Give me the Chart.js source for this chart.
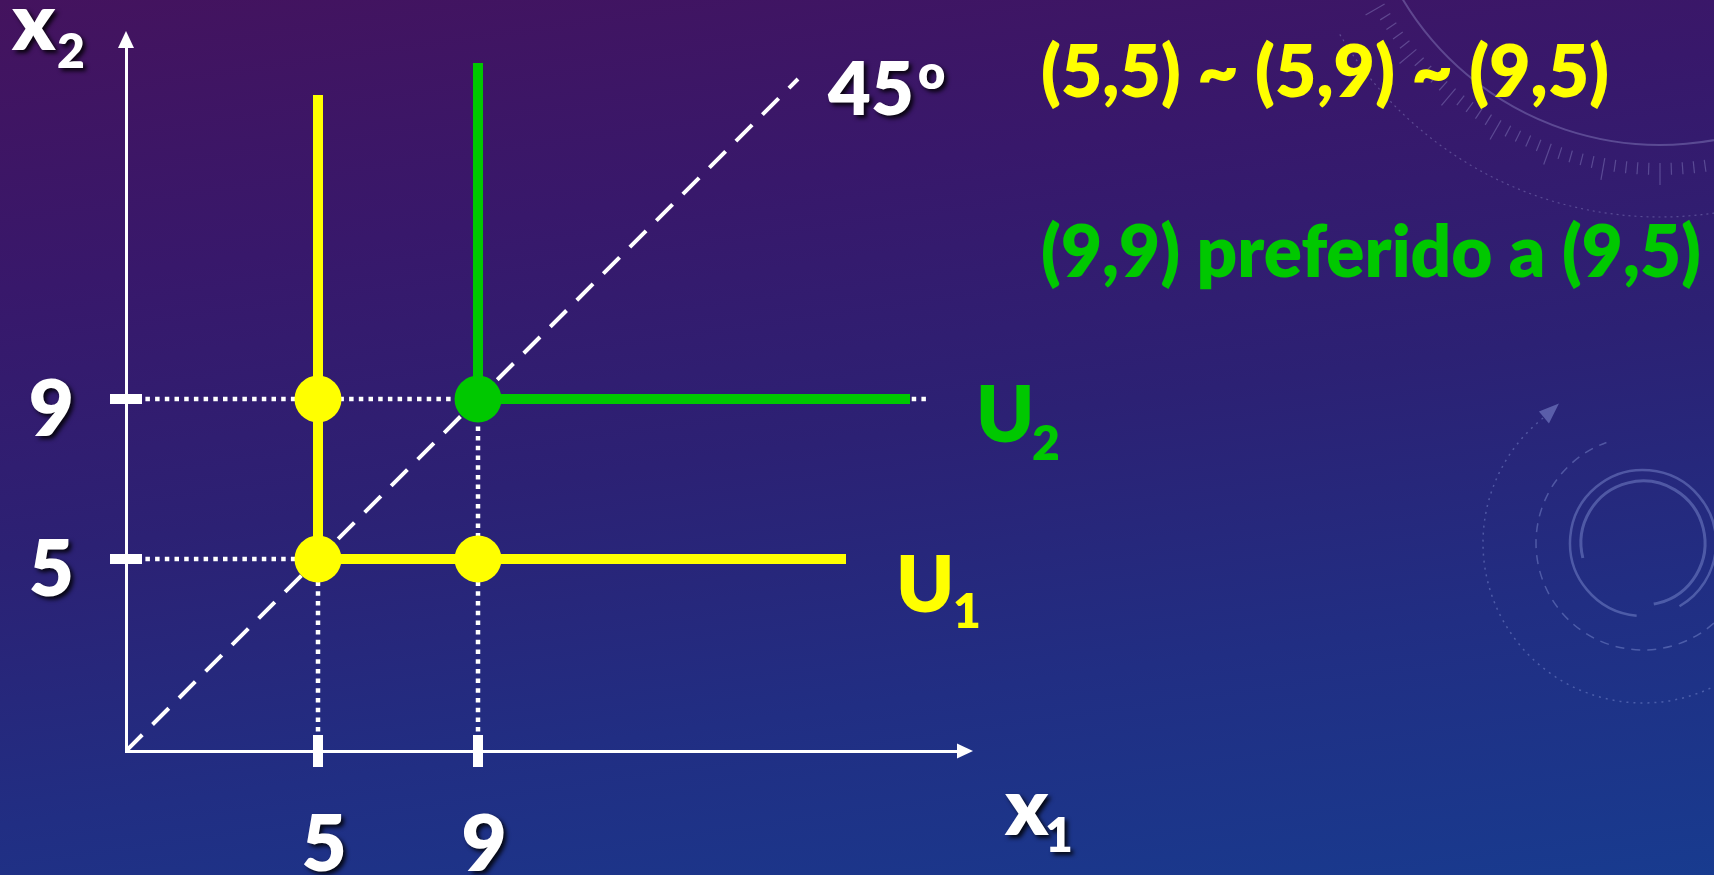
<!DOCTYPE html>
<html>
<head>
<meta charset="utf-8">
<script src="https://cdn.jsdelivr.net/npm/chart.js@4.4.1/dist/chart.umd.min.js"></script>
<style>
  html, body { margin: 0; padding: 0; width: 1714px; height: 875px; overflow: hidden; }
  body { background: linear-gradient(172deg, #44135e 0%, #38186b 26%, #2c2174 50%, #212e83 74%, #183b8f 100%); }
  #wrap { position: relative; width: 1714px; height: 875px; }
  canvas { display: block; }
</style>
</head>
<body>
<div id="wrap"><canvas id="c" width="1714" height="875"></canvas></div>
<script>
// ---- data ----
const xTicks = [5, 9];
const yTicks = [5, 9];
// indifference curve U1 (yellow) and U2 (green), perfect complements
const u1X = [5, 5, 18.2];
const u1Y = [16.6, 5, 5];
const u2X = [9, 9, 19.8];
const u2Y = [17.4, 9, 9];
// bundles marked on U1 and U2
const sameX = [5, 5, 9];
const sameY = [9, 5, 5];
const betterX = [9];
const betterY = [9];
// 45 degree line
const diagX = [0.2, 17];
const diagY = [0.2, 17];
// dotted guide lines: from (guideX1, guideY1) to (guideX2, guideY2)
const guideX1 = [0.2, 0.2, 5, 9];
const guideY1 = [9, 5, 0.2, 0.2];
const guideX2 = [20.2, 5, 5, 9];
const guideY2 = [9, 5, 5, 9];
// axis limits
const xLimits = [0.2, 21];
const yLimits = [0.2, 17.8];

const YELLOW = '#ffff00';
const GREEN = '#00c800';
const WHITE = '#ffffff';
const FONT = "Lato, 'Open Sans', 'DejaVu Sans', sans-serif";
const WEIGHT = '800';

const pts = (xs, ys) => xs.map((x, i) => ({ x: x, y: ys[i] }));

function buildDatasets() {
  const ds = [];
  ds.push({ label: 'U2 bundle', data: pts(betterX, betterY), showLine: false,
    pointRadius: 23.5, pointBackgroundColor: GREEN, pointBorderWidth: 0, order: 0 });
  ds.push({ label: 'U1 bundles', data: pts(sameX, sameY), showLine: false,
    pointRadius: 23.5, pointBackgroundColor: YELLOW, pointBorderWidth: 0, order: 1 });
  ds.push({ label: 'U2', data: pts(u2X, u2Y), borderColor: GREEN, borderWidth: 10,
    pointRadius: 0, borderCapStyle: 'butt', borderJoinStyle: 'miter', order: 2 });
  ds.push({ label: 'U1', data: pts(u1X, u1Y), borderColor: YELLOW, borderWidth: 10,
    pointRadius: 0, borderCapStyle: 'butt', borderJoinStyle: 'miter', order: 3 });
  ds.push({ label: '45', data: pts(diagX, diagY), borderColor: WHITE, borderWidth: 4,
    borderDash: [23, 14.5], pointRadius: 0, borderCapStyle: 'butt', order: 4 });
  for (let i = 0; i < guideX1.length; i++) {
    ds.push({ label: 'guide' + i,
      data: [{ x: guideX1[i], y: guideY1[i] }, { x: guideX2[i], y: guideY2[i] }],
      borderColor: WHITE, borderWidth: 4.5, borderDash: [4.5, 5.2], pointRadius: 0,
      borderCapStyle: 'butt', order: 5 });
  }
  return ds;
}

function deg(a) { return a * Math.PI / 180; }

// faint slide decorations in the background
const decoPlugin = {
  id: 'deco',
  beforeDraw(chart) {
    const c = chart.ctx;
    const W = chart.width;
    c.save();
    c.strokeStyle = 'rgba(150,165,230,0.38)';
    const cx = W - 71, cy = 543;
    c.lineWidth = 3;
    c.beginPath(); c.arc(cx, cy, 62, deg(166), deg(80)); c.stroke();
    c.lineWidth = 2.5;
    c.beginPath(); c.arc(cx, cy, 73, deg(95), deg(60)); c.stroke();
    c.lineWidth = 1.5; c.setLineDash([9, 7]);
    c.beginPath(); c.arc(cx, cy, 107, deg(40), deg(250)); c.stroke();
    c.setLineDash([2, 5]);
    c.beginPath(); c.arc(cx, cy, 160, deg(25), deg(232)); c.stroke();
    c.setLineDash([]);
    // arrow head on the dotted circle
    const a = deg(234), ax = cx + 160 * Math.cos(a), ay = cy + 160 * Math.sin(a);
    c.fillStyle = 'rgba(150,165,230,0.45)';
    c.beginPath(); c.moveTo(ax + 10, ay - 10); c.lineTo(ax - 10, ay - 2); c.lineTo(ax, ay + 10); c.closePath(); c.fill();
    // protractor arcs top right
    const px = W - 54, py = -155;
    c.strokeStyle = 'rgba(170,170,225,0.33)';
    c.lineWidth = 2;
    c.beginPath(); c.arc(px, py, 300, deg(40), deg(150)); c.stroke();
    c.lineWidth = 1.2;
    c.setLineDash([2, 4]);
    c.beginPath(); c.arc(px, py, 372, deg(40), deg(150)); c.stroke();
    c.setLineDash([]);
    for (let t = 50; t <= 150; t += 2) {
      const r1 = 318, r2 = (t % 10 === 0) ? 340 : 330;
      c.beginPath();
      c.moveTo(px + r1 * Math.cos(deg(t)), py + r1 * Math.sin(deg(t)));
      c.lineTo(px + r2 * Math.cos(deg(t)), py + r2 * Math.sin(deg(t)));
      c.stroke();
    }
    c.restore();
  },
  afterDatasetsDraw(chart) {
    // tick labels are drawn after this hook (ticks.z = 1): give them the slide's text shadow
    const c = chart.ctx;
    c.save();
    c.shadowColor = 'rgba(0,0,0,0.85)';
    c.shadowOffsetX = 3; c.shadowOffsetY = 3; c.shadowBlur = 4;
  },
  afterDraw(chart) {
    const c = chart.ctx;
    c.restore();
    const xs = chart.scales.x, ys = chart.scales.y;
    const area = chart.chartArea;
    c.save();
    c.fillStyle = WHITE;
    // axis arrow heads
    const ox = area.left, oy = area.bottom;
    c.beginPath(); c.moveTo(area.right + 15, oy); c.lineTo(area.right - 1, oy - 7.5); c.lineTo(area.right - 1, oy + 7.5); c.closePath(); c.fill();
    c.beginPath(); c.moveTo(ox, area.top - 16); c.lineTo(ox - 8, area.top + 1); c.lineTo(ox + 8, area.top + 1); c.closePath(); c.fill();
    // thick tick marks crossing the axes
    xTicks.forEach(v => { const p = xs.getPixelForValue(v); c.fillRect(p - 5, oy - 16, 10, 32); });
    yTicks.forEach(v => { const p = ys.getPixelForValue(v); c.fillRect(ox - 16, p - 5, 32, 10); });
    c.restore();

    const txt = (s, x, y, size, color, shadow, maxW) => {
      c.save();
      c.font = WEIGHT + ' ' + size + 'px ' + FONT;
      c.fillStyle = color; c.textAlign = 'left'; c.textBaseline = 'alphabetic';
      if (shadow) { c.shadowColor = 'rgba(0,0,0,0.85)'; c.shadowOffsetX = 3; c.shadowOffsetY = 3; c.shadowBlur = 4; }
      if (maxW && c.measureText(s).width > maxW) c.fillText(s, x, y, maxW); else c.fillText(s, x, y);
      c.restore();
    };
    txt('x', 12, 50, 80, WHITE, true);
    txt('2', 57, 68, 48, WHITE, true);
    txt('x', 1005, 835, 80, WHITE, true);
    txt('1', 1045, 852, 48, WHITE, true);
    txt('45', 828, 115, 74, WHITE, true);
    txt('o', 918, 89, 47, WHITE, true);
    txt('(5,5) ~ (5,9) ~ (9,5)', 1041, 97, 72, YELLOW, false, 568);
    txt('(9,9) preferido a (9,5)', 1041, 277, 72, GREEN, false, 660);
    txt('U', 896, 612, 78, YELLOW, false);
    txt('1', 953, 628, 48, YELLOW, false);
    txt('U', 976, 442, 78, GREEN, false);
    txt('2', 1032, 460, 48, GREEN, false);
  }
};

function make() {
  const ctx = document.getElementById('c').getContext('2d');
  new Chart(ctx, {
    type: 'line',
    data: { datasets: buildDatasets() },
    options: {
      responsive: false,
      devicePixelRatio: 1,
      animation: false,
      events: [],
      layout: { padding: { top: 47, right: 756, left: 0, bottom: 0 } },
      plugins: { legend: { display: false }, tooltip: { enabled: false }, title: { display: false } },
      elements: { line: { tension: 0, fill: false } },
      scales: {
        x: {
          type: 'linear', min: xLimits[0], max: xLimits[1],
          afterBuildTicks: s => { s.ticks = xTicks.map(v => ({ value: v })); },
          afterFit: s => { s.height = 124; s.paddingLeft = 0; s.paddingRight = 0; },
          grid: { display: false, drawTicks: false },
          border: { display: true, color: WHITE, width: 3 },
          ticks: { z: 1, color: WHITE, autoSkip: false, maxRotation: 0, padding: 48, labelOffset: 6,
            font: { family: FONT, weight: WEIGHT, size: 78 }, callback: v => String(v) }
        },
        y: {
          type: 'linear', min: yLimits[0], max: yLimits[1],
          afterBuildTicks: s => { s.ticks = yTicks.map(v => ({ value: v })); },
          afterFit: s => { s.width = 126; s.paddingTop = 0; s.paddingBottom = 0; },
          grid: { display: false, drawTicks: false },
          border: { display: true, color: WHITE, width: 3 },
          ticks: { z: 1, color: WHITE, autoSkip: false, padding: 52, labelOffset: 12,
            font: { family: FONT, weight: WEIGHT, size: 78 }, callback: v => String(v) }
        }
      }
    },
    plugins: [decoPlugin]
  });
}

if (document.fonts && document.fonts.load) {
  Promise.all([document.fonts.load(WEIGHT + " 78px Lato")]).then(make, make);
} else { make(); }
</script>
</body>
</html>
